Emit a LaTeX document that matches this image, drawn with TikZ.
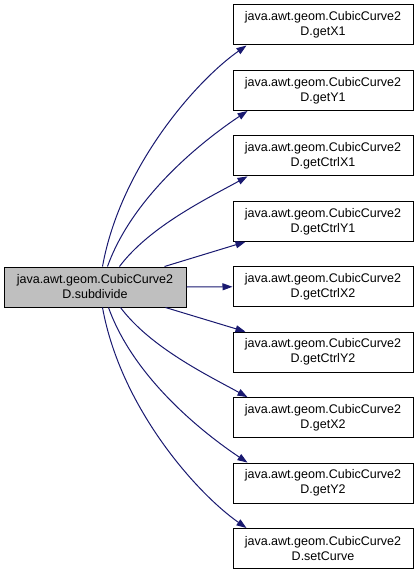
\documentclass[tikz,border=0pt]{standalone}
\usepackage{fontspec}
\setmainfont{Liberation Sans}
\usepackage{xcolor}
\definecolor{edgeblue}{HTML}{191970}
\definecolor{srcgray}{HTML}{BFBFBF}
\usetikzlibrary{arrows.meta}

\begin{document}
\begin{tikzpicture}[x=1pt, y=-1pt,
    fnbox/.style={draw=black, line width=1pt, fill=white, minimum width=180pt, minimum height=40pt,
                  inner sep=0pt, align=center, font=\fontsize{12.5}{15}\selectfont},
    srcbox/.style={fnbox, fill=srcgray, minimum width=182pt},
    call/.style={draw=edgeblue, line width=1pt, -{Triangle[length=10pt, width=7pt]}}]

    \useasboundingbox (0,0) rectangle (419,575);

    % ===== CALLER =====
    \node[srcbox] (src) at (95, 287) {java.awt.geom.CubicCurve2\\D.subdivide};

    % ===== CALLEES =====
    \foreach \i/\fn in {1/getX1, 2/getY1, 3/getCtrlX1, 4/getCtrlY1, 5/getCtrlX2,
                        6/getCtrlY2, 7/getX2, 8/getY2, 9/setCurve} {
        \node[fnbox] (f\i) at (323, {25+65.44*(\i-1)}) {java.awt.geom.CubicCurve2\\D.\fn};
    }

    % ===== CALL EDGES (upper half) =====
    \draw[call] ([xshift=99pt]src.north west) .. controls +(18,-100) and +(-50,35) .. ([xshift=14pt]f1.south west);
    \draw[call] ([xshift=104pt]src.north west) .. controls +(25,-70) and +(-45,30) .. ([xshift=15pt]f2.south west);
    \draw[call] ([xshift=116pt]src.north west) .. controls +(30,-40) and +(-40,22) .. ([xshift=15pt]f3.south west);
    \draw[call] ([xshift=161pt]src.north west) -- ([xshift=13pt]f4.south west);

    % straight across
    \draw[call] (src.east) -- (f5.west);

    % ===== CALL EDGES (lower half) =====
    \draw[call] ([xshift=162pt]src.south west) -- ([xshift=13pt]f6.north west);
    \draw[call] ([xshift=117pt]src.south west) .. controls +(30,40) and +(-40,-22) .. ([xshift=15pt]f7.north west);
    \draw[call] ([xshift=105pt]src.south west) .. controls +(25,70) and +(-45,-30) .. ([xshift=15pt]f8.north west);
    \draw[call] ([xshift=99pt]src.south west) .. controls +(18,100) and +(-50,-35) .. ([xshift=14pt]f9.north west);

\end{tikzpicture}
\end{document}
